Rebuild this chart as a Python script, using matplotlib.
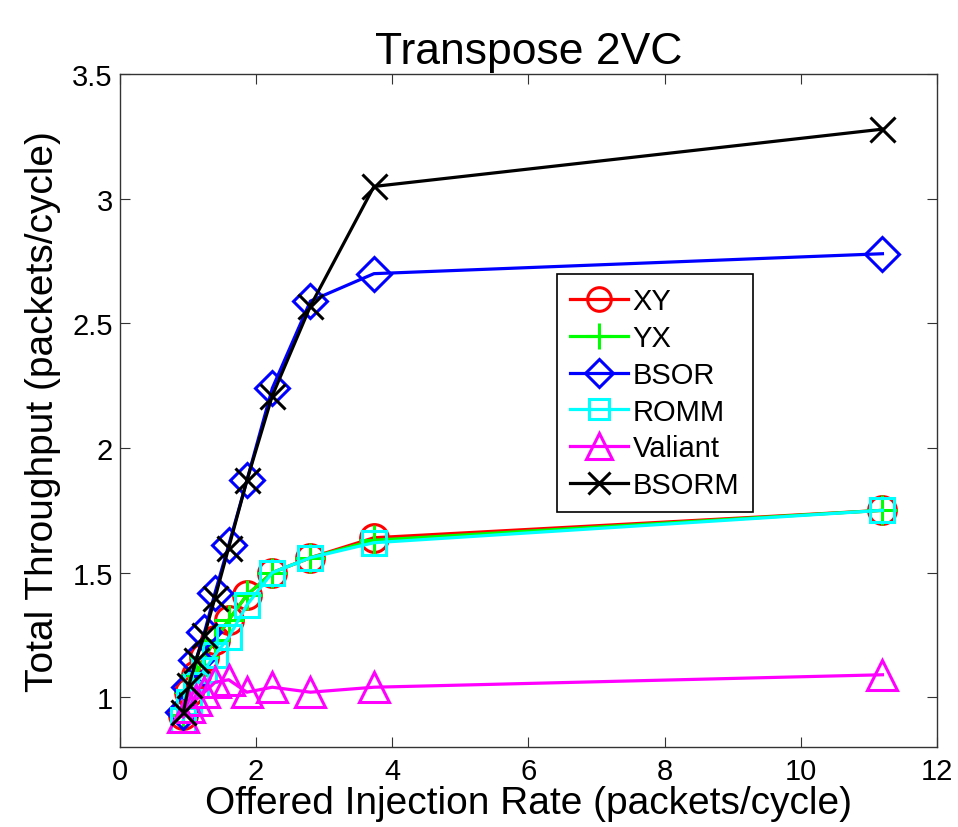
import matplotlib
matplotlib.use('Agg')
import matplotlib.pyplot as plt

plt.rcParams['font.family'] = ['Liberation Sans', 'DejaVu Sans']

# Offered injection rates (packets/cycle)
rate = [0.933, 1.018, 1.12, 1.244, 1.4, 1.6, 1.867, 2.24, 2.8, 3.733, 11.2]

# Total throughput per routing scheme (packets/cycle)
xy = [0.93, 1.02, 1.09, 1.16, 1.23, 1.31, 1.41, 1.50, 1.56, 1.64, 1.75]
yx = [0.93, 1.02, 1.09, 1.16, 1.23, 1.31, 1.41, 1.50, 1.56, 1.63, 1.75]
bsor = [0.94, 1.04, 1.15, 1.26, 1.42, 1.61, 1.87, 2.24, 2.59, 2.70, 2.78]
romm = [0.91, 0.98, 1.05, 1.11, 1.17, 1.24, 1.37, 1.50, 1.56, 1.62, 1.75]
valiant = [0.92, 0.96, 0.99, 1.02, 1.06, 1.07, 1.02, 1.04, 1.02, 1.04, 1.09]
bsorm = [0.94, 1.05, 1.15, 1.25, 1.40, 1.60, 1.87, 2.21, 2.57, 3.05, 3.28]

series = [
    ('XY', xy, 'red', 'o'),
    ('YX', yx, 'lime', '+'),
    ('BSOR', bsor, 'blue', 'D'),
    ('ROMM', romm, 'cyan', 's'),
    ('Valiant', valiant, 'magenta', '^'),
    ('BSORM', bsorm, 'black', 'x'),
]

sizes = {'o': 20, '+': 22, 'D': 17, 's': 17, '^': 22, 'x': 18}

fig = plt.figure(figsize=(9.58, 8.28), dpi=100)
ax = fig.add_axes([0.125, 0.0966, 0.853, 0.8124])

for name, vals, color, marker in series:
    ax.plot(rate, vals, color=color, marker=marker, markersize=sizes[marker],
            markerfacecolor='none', markeredgewidth=2.2, linewidth=2.3,
            label=name)

ax.set_xlim(0, 12)
ax.set_ylim(0.8, 3.5)
ax.set_xticks([0, 2, 4, 6, 8, 10, 12])
ax.set_yticks([1, 1.5, 2, 2.5, 3, 3.5])
ax.set_yticklabels(['1', '1.5', '2', '2.5', '3', '3.5'])
ax.tick_params(direction='in', top=True, right=True, labelsize=21, length=7,
               color='#333333')
ax.tick_params(axis='x', pad=7)
ax.tick_params(axis='y', pad=5)
for sp in ax.spines.values():
    sp.set_color('#333333')
    sp.set_linewidth(1.0)

ax.set_xlabel('Offered Injection Rate (packets/cycle)', fontsize=28, labelpad=0)
ax.set_ylabel('Total Throughput (packets/cycle)', fontsize=28, labelpad=8)
ax.set_title('Transpose 2VC', fontsize=32, pad=8)

leg = ax.legend(loc='upper left', bbox_to_anchor=(0.535, 0.703), fontsize=21,
                fancybox=False, framealpha=1, edgecolor='black',
                handlelength=2.0, borderpad=0.45, labelspacing=0.3,
                handletextpad=0.15, markerscale=0.85, borderaxespad=0)
leg.get_frame().set_linewidth(1.2)

fig.savefig('out.png', dpi=100)
